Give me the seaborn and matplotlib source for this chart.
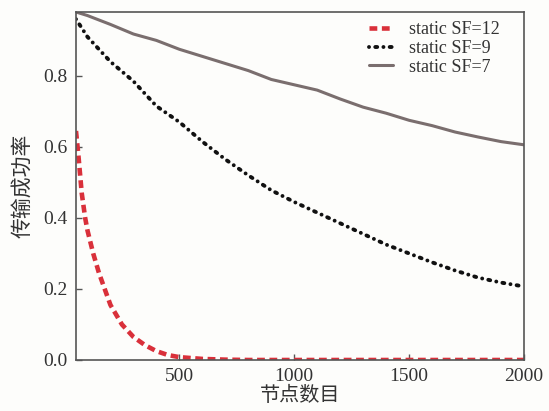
import numpy as np
import pandas as pd
import matplotlib
matplotlib.use("Agg")
import matplotlib.pyplot as plt
import seaborn as sns

# values
x_sf12 = [50, 60, 75, 90, 100, 125, 150, 200, 250, 300, 350, 400, 450, 500,
          600, 700, 800, 1000, 1200, 1400, 1600, 1800, 2000]
y_sf12 = [0.645, 0.58, 0.47, 0.40, 0.365, 0.30, 0.245, 0.155, 0.10, 0.065,
          0.042, 0.025, 0.014, 0.008, 0.003, 0.001, 0.0, 0.0, 0.0, 0.0, 0.0, 0.0, 0.0]

x_grid = [50, 100, 200, 300, 400, 500, 600, 700, 800, 900, 1000,
          1100, 1200, 1300, 1400, 1500, 1600, 1700, 1800, 1900, 2000]
y_sf9 = [0.96, 0.91, 0.84, 0.785, 0.715, 0.67, 0.615, 0.565, 0.52, 0.478, 0.445,
         0.415, 0.385, 0.355, 0.325, 0.30, 0.275, 0.252, 0.232, 0.218, 0.207]
y_sf7 = [0.98, 0.97, 0.945, 0.918, 0.90, 0.875, 0.855, 0.835, 0.815, 0.79, 0.775,
         0.76, 0.735, 0.712, 0.695, 0.675, 0.66, 0.642, 0.628, 0.615, 0.606]

labels = ["static SF=12", "static SF=9", "static SF=7"]
x_ticks = [500, 1000, 1500, 2000]
y_ticks = [0.0, 0.2, 0.4, 0.6, 0.8]

sns.set_style("ticks")
plt.rcParams["font.family"] = ["Liberation Serif", "Noto Sans CJK SC"]
plt.rcParams["axes.edgecolor"] = "#555555"
plt.rcParams["axes.linewidth"] = 1.2

fig = plt.figure(figsize=(5.49, 4.11), dpi=100, facecolor="#fdfdfb")
ax = fig.add_axes([0.1384, 0.1241, 0.8161, 0.8467])
ax.set_facecolor("#fdfdfb")

df12 = pd.DataFrame({"x": x_sf12, "y": y_sf12})
df9 = pd.DataFrame({"x": x_grid, "y": y_sf9})
df7 = pd.DataFrame({"x": x_grid, "y": y_sf7})

sns.lineplot(data=df12, x="x", y="y", ax=ax, color="#d9303a", lw=3.3,
             label=labels[0])
ax.lines[-1].set_dashes((1.7, 1.0))
ax.lines[-1].set_dash_capstyle("butt")

sns.lineplot(data=df9, x="x", y="y", ax=ax, color="#111111", lw=2.8,
             label=labels[1])
ax.lines[-1].set_dashes((0.01, 1.6, 0.5, 1.6))
ax.lines[-1].set_dash_capstyle("round")

sns.lineplot(data=df7, x="x", y="y", ax=ax, color="#7a6e6e", lw=2.2,
             label=labels[2])

ax.set_xlim(50, 2000)
ax.set_ylim(0, 0.98)
ax.set_xticks(x_ticks)
ax.set_yticks(y_ticks)
ax.set_yticklabels([f"{v:.1f}" for v in y_ticks])
ax.tick_params(direction="in", length=4, width=1, colors="#555555",
               labelsize=14, labelcolor="#333333", pad=6)

ax.set_xlabel("节点数目", fontsize=14.5, color="#333333",
              family=["Noto Sans CJK SC"], labelpad=0)
ax.set_ylabel("传输成功率", fontsize=15, color="#333333",
              family=["Noto Sans CJK SC"], labelpad=7)

leg = ax.legend(loc="upper right", frameon=False, fontsize=13,
                handlelength=1.3, handletextpad=0.9, labelspacing=0.1,
                borderaxespad=0.2, bbox_to_anchor=(0.97, 1.005))
for t in leg.get_texts():
    t.set_color("#333333")

fig.savefig("out.png", dpi=100, facecolor=fig.get_facecolor())
